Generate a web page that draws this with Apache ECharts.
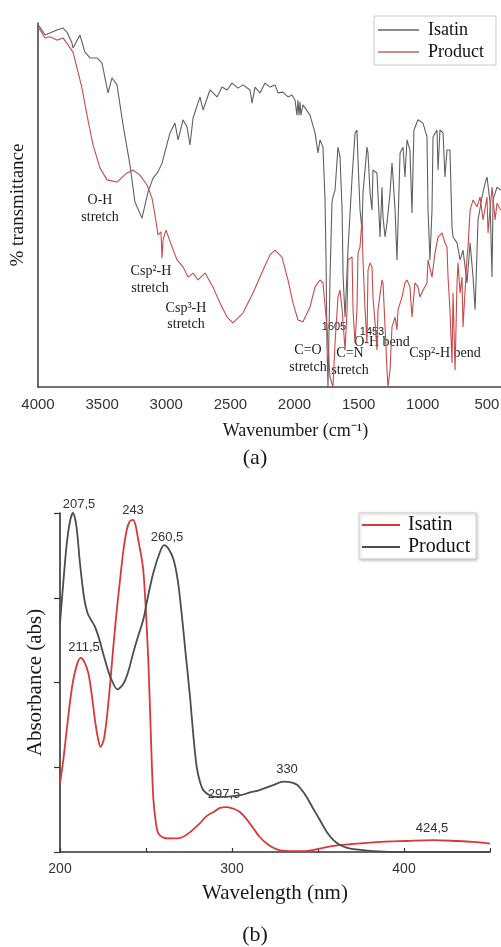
<!DOCTYPE html>
<html>
<head>
<meta charset="utf-8">
<script src="https://cdn.jsdelivr.net/npm/echarts@6/dist/echarts.min.js"></script>
<style>
html,body{margin:0;padding:0;background:#fff;}
#chart{width:501px;height:947px;}
</style>
</head>
<body>
<div id="chart"></div>
<script>
// ---------- (a) FT-IR data ----------
const irTickLabels = [4000, 3500, 3000, 2500, 2000, 1500, 1000, 500];

const irWavenumberIsatin = [3992,3945,3852,3805,3774,3735,3727,3673,3634,3595,3540,3501,3454,3423,3384,3337,3283,3244,3189,3142,3103,3064,3033,2971,2932,2908,2869,2838,2815,2791,2737,2713,2659,2604,2565,2526,2487,2441,2402,2347,2331,2308,2269,2230,2191,2152,2129,2090,2051,2020,1996,1981,1973,1965,1957,1950,1934,1879,1840,1817,1801,1778,1762,1754,1747,1739,1723,1708,1700,1684,1661,1645,1629,1621,1606,1583,1551,1528,1513,1505,1489,1474,1466,1435,1427,1411,1396,1388,1357,1333,1318,1310,1294,1279,1255,1240,1232,1216,1201,1177,1154,1139,1123,1100,1084,1069,1037,998,967,959,944,928,920,889,881,866,842,827,811,788,772,764,733,709,686,655,631,608,592,569,538,514,499,475,460,452,421,392];
const irTransIsatin = [99.2,96.7,98.1,98.6,97.5,94.5,93.1,96.7,92.0,90.4,90.4,89.0,80.8,84.9,83.0,72.0,61.0,50.8,46.4,53.6,57.4,59.1,61.5,69.8,72.5,67.9,73.4,71.4,66.5,73.9,79.7,76.1,81.6,79.7,82.4,81.6,83.5,82.1,83.0,81.6,78.0,82.4,80.8,83.5,82.4,83.0,80.8,81.0,79.7,80.2,78.8,74.7,78.8,74.7,78.3,74.7,77.5,74.7,69.8,64.3,67.9,65.9,51.4,34.9,12.1,0,30.2,50.5,52.2,54.1,65.9,63.2,48.6,30.2,19.2,37.6,57.7,69.8,70.6,62.4,48.6,43.1,53.3,65.9,64.3,53.3,48.6,59.6,58.8,41.2,54.9,46.7,41.2,45.1,53.3,61.5,57.7,48.6,34.9,64.3,65.9,57.7,67.9,65.1,47.8,70.6,73.4,72.5,68.7,48.6,34.9,48.6,68.7,70.6,59.6,70.6,69.8,57.7,65.1,65.1,44.0,41.2,39.6,34.9,37.6,28.6,39.6,30.2,21.2,45.9,52.2,56.0,57.7,50.5,30.2,51.4,54.9,54.1];

const irWavenumberProduct = [3992,3945,3906,3852,3805,3766,3727,3688,3657,3618,3571,3517,3462,3384,3306,3259,3205,3150,3111,3088,3064,3041,3033,3025,3002,2955,2916,2869,2830,2791,2752,2698,2636,2581,2526,2480,2402,2324,2246,2191,2152,2098,2051,2012,1973,1934,1879,1840,1801,1778,1747,1723,1700,1684,1661,1645,1629,1606,1590,1583,1551,1544,1528,1513,1505,1489,1474,1466,1450,1435,1427,1411,1396,1388,1372,1357,1349,1318,1310,1294,1279,1271,1255,1240,1216,1201,1193,1162,1139,1123,1100,1084,1061,1037,1022,998,967,959,928,905,881,850,827,811,803,788,772,764,748,733,725,709,694,686,655,647,631,608,577,553,530,499,491,460,436,421,392];
const irTransProduct = [98.6,95.9,96.2,95.3,95.9,94.0,92.0,86.5,82.1,74.7,66.5,60.2,56.9,56.3,58.8,59.6,58.2,55.5,51.9,47.3,41.8,42.6,35.4,40.4,43.1,38.5,34.9,33.0,30.2,31.3,29.4,31.3,27.5,23.1,19.2,17.6,20.3,25.8,32.1,36.3,37.6,35.7,29.4,23.1,18.4,17.9,22.0,27.5,29.4,28.6,16.5,2.7,0,12.1,24.7,26.6,21.2,10.2,21.2,34.9,35.7,21.2,12.1,21.2,36.8,38.5,45.9,34.9,21.2,12.1,32.1,34.1,33.0,24.7,17.6,10.2,21.2,29.4,28.6,16.5,4.7,0,4.7,16.5,19.2,15.7,21.2,24.7,28.6,29.4,27.5,19.2,28.6,27.5,24.7,26.6,28.6,34.9,30.2,36.8,41.2,42.3,39.6,38.5,30.2,21.2,6.6,25.8,4.7,28.6,34.1,25.8,30.2,16.5,35.7,38.5,48.6,51.4,49.5,52.2,45.9,52.2,42.3,54.9,45.9,50.5,48.6];

// ---------- (b) UV-Vis data ----------
const uvTickLabels = [200, 300, 400];

const uvWavelengthIsatin = [200,202,203.9,206,207.7,210,212,214,216.5,218.5,220.3,222,223.6,225.5,227.1,229,231,233,234.9,236.8,238.8,240.5,242.5,244,245.5,247,248.4,249.8,251.4,252.8,254.2,255.7,257.2,260,264,268,271.7,276,281.4,285,289.1,293,297,301,304.7,308,312.4,316,320.2,324,328,334,340,346,353,362,372.5,387,401.6,417,430.6,440,450];
const uvAbsIsatin = [0.81,1.1,1.44,1.8,2.03,2.22,2.29,2.25,2.11,1.85,1.56,1.35,1.24,1.33,1.56,1.95,2.42,2.85,3.21,3.55,3.8,3.9,3.92,3.85,3.68,3.52,3.33,2.9,2.23,1.4,0.65,0.35,0.22,0.17,0.16,0.16,0.18,0.24,0.34,0.42,0.47,0.52,0.53,0.51,0.47,0.4,0.28,0.18,0.1,0.05,0.02,0.01,0.01,0.02,0.05,0.08,0.1,0.12,0.13,0.14,0.13,0.12,0.1];

const uvWavelengthProduct = [200,202,204,206,207.5,209.5,211.6,214,216,218,220.3,223,225,228,230,233.3,236,238,240,242.6,245,248.4,251,254.2,258.1,260.5,263,266,268.5,270.7,273,275.6,277.5,279.5,281.5,283.3,287,291,296,300.6,305,310,316,324,330,335,338,341,343.4,347,351,355,359,363,367,372,382,400,425,450];
const uvAbsProduct = [2.7,3.2,3.65,3.92,4.0,3.85,3.41,3.0,2.82,2.74,2.66,2.5,2.35,2.14,2.03,1.92,1.96,2.03,2.15,2.35,2.52,2.74,3.0,3.29,3.54,3.62,3.58,3.45,3.2,2.82,2.35,1.83,1.38,1.0,0.82,0.73,0.67,0.65,0.65,0.66,0.67,0.7,0.73,0.79,0.83,0.82,0.79,0.72,0.65,0.52,0.38,0.24,0.14,0.08,0.05,0.03,0.01,0,0,0];

const uvPeakLabels = ['207,5', '243', '260,5', '211,5', '297,5', '330', '424,5'];

function pairs(xs, ys) { return xs.map((x, i) => [x, ys[i]]); }

const SERIF = '"Liberation Serif", "Times New Roman", serif';
const SANS = '"Liberation Sans", Arial, sans-serif';

const chart = echarts.init(document.getElementById('chart'), null, {renderer: 'canvas'});

function txt(x, y, text, font, size, fill) {
  return {
    type: 'text', x: x, y: y, silent: true,
    style: {text: text, font: size + 'px ' + font, fill: fill || '#1a1a1a', align: 'center', verticalAlign: 'middle'}
  };
}

const peakPos = [[79, 504], [133, 510], [167, 537], [84, 647], [224, 794], [287, 769], [432, 828]];

const graphics = [
  txt(100, 200, 'O-H', SERIF, 14), txt(100, 217, 'stretch', SERIF, 14),
  txt(151, 271, 'Csp²-H', SERIF, 14), txt(150, 288, 'stretch', SERIF, 14),
  txt(186, 308, 'Csp³-H', SERIF, 14), txt(186, 324, 'stretch', SERIF, 14),
  txt(308, 350, 'C=O', SERIF, 14), txt(308, 367, 'stretch', SERIF, 14),
  txt(350, 353, 'C=N', SERIF, 14), txt(350, 370, 'stretch', SERIF, 14),
  txt(382, 342, 'O-H bend', SERIF, 14),
  txt(445, 353, 'Csp²-H bend', SERIF, 14),
  txt(334, 327, '1605', SANS, 11), txt(372, 332, '1453', SANS, 11),
  txt(255, 458, '(a)', SERIF, 22),
  txt(255, 935, '(b)', SERIF, 22)
].concat(uvPeakLabels.map((t, i) => txt(peakPos[i][0], peakPos[i][1], t, SANS, 13, '#333')));

const option = {
  animation: false,
  backgroundColor: '#ffffff',
  grid: [
    {left: 38, right: 0, top: 23, height: 364, containLabel: false, outerBoundsMode: 'none'},
    {left: 60, right: 11, top: 513, height: 339, containLabel: false, outerBoundsMode: 'none'}
  ],
  xAxis: [
    {
      gridIndex: 0, type: 'value', inverse: true, min: 390, max: 4000,
      name: 'Wavenumber (cm⁻¹)', nameLocation: 'middle', nameGap: 35,
      nameTextStyle: {fontFamily: SERIF, fontSize: 18, color: '#1a1a1a', padding: [0, 0, 0, 52]},
      axisLine: {show: true, onZero: false, lineStyle: {color: '#444', width: 1.6}},
      axisTick: {show: false},
      splitLine: {show: false},
      axisLabel: {customValues: irTickLabels, formatter: v => String(v), fontFamily: SANS, fontSize: 15, color: '#333', margin: 10}
    },
    {
      gridIndex: 1, type: 'value', min: 200, max: 450, interval: 50,
      name: 'Wavelength (nm)', nameLocation: 'middle', nameGap: 31,
      nameTextStyle: {fontFamily: SERIF, fontSize: 21, color: '#1a1a1a'},
      axisLine: {show: true, onZero: false, lineStyle: {color: '#333', width: 1.6}},
      axisTick: {show: true, inside: true, length: 4, lineStyle: {color: '#333', width: 1.2}},
      splitLine: {show: false},
      axisLabel: {customValues: uvTickLabels, formatter: v => String(v), fontFamily: SANS, fontSize: 14, color: '#333', margin: 10}
    }
  ],
  yAxis: [
    {
      gridIndex: 0, type: 'value', min: 0, max: 100,
      name: '% transmittance', nameLocation: 'middle', nameGap: 10,
      nameTextStyle: {fontFamily: SERIF, fontSize: 19, color: '#1a1a1a'},
      axisLine: {show: true, onZero: false, lineStyle: {color: '#444', width: 1.6}},
      axisTick: {show: false}, axisLabel: {show: false}, splitLine: {show: false}
    },
    {
      gridIndex: 1, type: 'value', min: 0, max: 4, interval: 1,
      name: 'Absorbance (abs)', nameLocation: 'middle', nameGap: 14,
      nameTextStyle: {fontFamily: SERIF, fontSize: 21, color: '#1a1a1a'},
      axisLine: {show: true, onZero: false, lineStyle: {color: '#333', width: 1.6}},
      axisTick: {show: true, inside: false, length: 6, lineStyle: {color: '#333', width: 1.2}},
      axisLabel: {show: false}, splitLine: {show: false}
    }
  ],
  legend: [
    {
      left: 374, top: 16, orient: 'vertical', icon: 'rect', itemWidth: 41, itemHeight: 2, itemGap: 4,
      padding: [5, 12, 4, 4], borderColor: '#c8c8c8', borderWidth: 1, selectedMode: false,
      textStyle: {fontFamily: SERIF, fontSize: 18, color: '#111', padding: [0, 0, 0, 4]},
      data: [
        {name: 'Isatin', itemStyle: {color: '#8c8c8c'}},
        {name: 'Product', itemStyle: {color: '#d48a8a'}}
      ]
    },
    {
      left: 359, top: 513, orient: 'vertical', icon: 'rect', itemWidth: 38, itemHeight: 2, itemGap: 2,
      padding: [2, 6, 2, 3], borderColor: '#d0d0d0', borderWidth: 1, selectedMode: false,
      shadowBlur: 3, shadowColor: 'rgba(0,0,0,0.25)', shadowOffsetX: 1, shadowOffsetY: 1,
      backgroundColor: '#fff',
      textStyle: {fontFamily: SERIF, fontSize: 20, color: '#111', padding: [0, 0, 0, 3]},
      data: [
        {name: 'Isatin', itemStyle: {color: '#d9383a'}},
        {name: 'Product', itemStyle: {color: '#4d4d4d'}}
      ]
    }
  ],
  series: [
    {
      name: 'Isatin', type: 'line', xAxisIndex: 0, yAxisIndex: 0,
      data: pairs(irWavenumberIsatin, irTransIsatin),
      showSymbol: false, symbol: 'none', lineStyle: {color: '#606060', width: 1.1}, itemStyle: {color: '#606060'}
    },
    {
      name: 'Product', type: 'line', xAxisIndex: 0, yAxisIndex: 0,
      data: pairs(irWavenumberProduct, irTransProduct),
      showSymbol: false, symbol: 'none', lineStyle: {color: '#c94a4a', width: 1.1}, itemStyle: {color: '#c94a4a'}
    },
    {
      name: 'Isatin', type: 'line', xAxisIndex: 1, yAxisIndex: 1,
      data: pairs(uvWavelengthIsatin, uvAbsIsatin), smooth: 0.3,
      showSymbol: false, symbol: 'none', lineStyle: {color: '#d9383a', width: 1.8}, itemStyle: {color: '#d9383a'}
    },
    {
      name: 'Product', type: 'line', xAxisIndex: 1, yAxisIndex: 1,
      data: pairs(uvWavelengthProduct, uvAbsProduct), smooth: 0.3,
      showSymbol: false, symbol: 'none', lineStyle: {color: '#4d4d4d', width: 1.8}, itemStyle: {color: '#4d4d4d'}
    }
  ],
  graphic: graphics
};

chart.setOption(option);
</script>
</body>
</html>
